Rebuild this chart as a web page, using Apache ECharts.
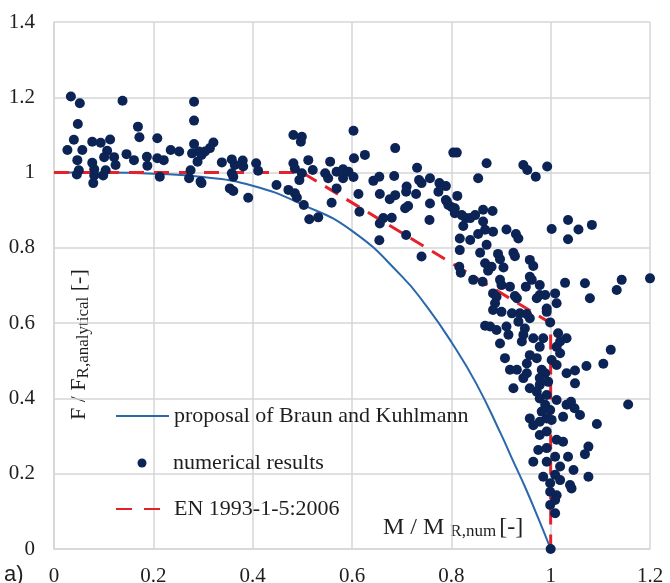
<!DOCTYPE html>
<html>
<head>
<meta charset="utf-8">
<script src="https://cdn.jsdelivr.net/npm/echarts@6/dist/echarts.min.js"></script>
<style>
  html, body { margin: 0; padding: 0; background: #ffffff; }
  #chart { width: 670px; height: 583px; }
</style>
</head>
<body>
<div id="chart"></div>
<script>
// Series names as shown in the legend
const seriesNames = ['proposal of Braun and Kuhlmann', 'numerical results', 'EN 1993-1-5:2006'];

// Axis tick labels
const xTickLabels = ['0', '0.2', '0.4', '0.6', '0.8', '1', '1.2'];
const yTickLabels = ['0', '0.2', '0.4', '0.6', '0.8', '1', '1.2', '1.4'];

// Interaction curve proposed by Braun and Kuhlmann (M/MR,num -> F/FR,analytical)
const curveM = [0, 0.1, 0.2, 0.3, 0.4, 0.5, 0.6, 0.7, 0.75, 0.8, 0.85, 0.9, 0.925, 0.95, 0.975, 1.0];
const curveF = [1.0, 1.0, 0.997, 0.988, 0.965, 0.915, 0.845, 0.725, 0.645, 0.55, 0.44, 0.305, 0.232, 0.16, 0.082, 0];

// EN 1993-1-5:2006 interaction limit
const enM = [0, 0.5, 1.0, 1.0];
const enF = [1.0, 1.0, 0.6, 0];

// Numerical results [M/MR,num, F/FR,analytical]
const numericalResults = [
  [0.034,1.202],[0.052,1.184],[0.138,1.191],[0.282,1.188],[0.048,1.129],[0.282,1.138],[0.169,1.122],
  [0.172,1.094],[0.208,1.091],[0.040,1.087],[0.077,1.082],[0.094,1.079],[0.113,1.088],[0.282,1.076],
  [0.027,1.060],[0.057,1.060],[0.107,1.058],[0.146,1.049],[0.161,1.033],[0.187,1.042],[0.208,1.038],
  [0.235,1.060],[0.252,1.056],[0.221,1.033],[0.101,1.041],[0.121,1.041],[0.047,1.033],[0.077,1.026],
  [0.124,1.020],[0.188,1.018],[0.050,1.006],[0.081,1.009],[0.104,1.006],[0.046,0.995],[0.081,0.992],
  [0.099,0.992],[0.213,0.989],[0.079,0.972],[0.275,1.006],[0.272,0.985],[0.295,0.976],[0.278,1.051],
  [0.292,1.056],[0.289,1.029],[0.321,1.080],[0.314,1.065],[0.304,1.056],[0.297,1.047],[0.338,1.027],
  [0.358,1.035],[0.380,1.032],[0.364,1.020],[0.381,1.016],[0.407,1.025],[0.411,1.005],[0.358,0.998],
  [0.361,0.989],[0.297,0.972],[0.354,0.958],[0.361,0.951],[0.391,0.933],[0.448,0.967],[0.472,0.954],
  [0.485,0.945],[0.489,0.934],[0.482,1.100],[0.499,1.095],[0.497,1.082],[0.482,1.025],[0.485,1.011],
  [0.499,0.998],[0.494,0.980],[0.512,1.033],[0.521,1.007],[0.503,0.914],[0.514,0.876],[0.532,0.881],
  [0.556,1.029],[0.546,0.998],[0.552,0.985],[0.569,1.002],[0.582,1.009],[0.582,0.985],[0.569,0.958],
  [0.559,0.920],[0.593,1.002],[0.603,1.111],[0.626,1.047],[0.604,1.038],[0.687,1.065],[0.804,1.053],
  [0.811,1.053],[0.603,0.988],[0.643,0.978],[0.655,0.989],[0.685,0.991],[0.731,1.013],[0.735,0.980],
  [0.740,0.972],[0.757,0.985],[0.776,0.972],[0.789,0.964],[0.710,0.963],[0.613,0.943],[0.656,0.943],
  [0.709,0.949],[0.729,0.943],[0.687,0.940],[0.676,0.929],[0.774,0.949],[0.812,0.938],[0.757,0.918],
  [0.789,0.927],[0.794,0.914],[0.801,0.908],[0.807,0.905],[0.707,0.905],[0.713,0.911],[0.615,0.896],
  [0.663,0.879],[0.680,0.880],[0.656,0.865],[0.756,0.874],[0.821,0.887],[0.824,0.858],[0.709,0.834],
  [0.655,0.820],[0.817,0.825],[0.817,0.794],[0.740,0.777],[0.816,0.750],[0.829,0.879],[0.871,1.025],
  [0.945,1.020],[0.953,1.007],[0.970,0.989],[0.993,1.016],[0.854,0.985],[0.791,0.923],[0.807,0.892],
  [0.838,0.879],[0.848,0.887],[0.864,0.901],[0.883,0.898],[0.864,0.870],[0.868,0.848],[0.884,0.843],
  [0.854,0.837],[0.911,0.849],[0.930,0.837],[0.935,0.825],[1.002,0.850],[1.035,0.874],[1.035,0.823],
  [0.838,0.821],[0.871,0.808],[0.858,0.787],[0.894,0.784],[0.925,0.787],[0.928,0.778],[0.898,0.770],
  [0.868,0.759],[0.881,0.750],[0.905,0.748],[0.874,0.739],[0.819,0.734],[0.958,0.768],[0.965,0.752],
  [0.958,0.723],[0.962,0.715],[0.978,0.701],[0.844,0.715],[0.863,0.710],[0.898,0.715],[0.901,0.701],
  [0.918,0.697],[0.884,0.679],[0.891,0.670],[0.928,0.672],[0.950,0.697],[1.009,0.679],[1.029,0.707],
  [0.978,0.675],[0.888,0.653],[0.932,0.666],[0.972,0.666],[0.989,0.675],[1.012,0.653],[0.992,0.639],
  [0.884,0.635],[0.901,0.630],[0.922,0.626],[0.938,0.626],[0.952,0.624],[0.958,0.613],[0.999,0.602],
  [0.868,0.593],[0.878,0.591],[0.891,0.582],[0.911,0.591],[0.935,0.604],[0.948,0.586],[0.915,0.569],
  [0.945,0.569],[0.965,0.560],[0.985,0.560],[1.015,0.573],[1.032,0.560],[0.898,0.546],[0.942,0.551],
  [0.978,0.537],[1.012,0.537],[1.019,0.520],[0.908,0.507],[0.958,0.515],[0.972,0.507],[1.002,0.502],
  [0.952,0.493],[1.012,0.489],[0.918,0.476],[0.932,0.476],[0.952,0.467],[0.982,0.476],[0.989,0.467],
  [0.945,0.454],[0.978,0.454],[0.995,0.444],[1.032,0.467],[0.925,0.427],[0.958,0.427],[0.978,0.436],
  [0.972,0.418],[0.978,0.400],[0.992,0.409],[0.989,0.383],[1.012,0.396],[0.982,0.365],[0.999,0.369],
  [1.032,0.383],[0.958,0.347],[1.025,0.351],[0.965,0.329],[0.978,0.338],[0.992,0.347],[1.002,0.343],
  [1.059,0.356],[0.978,0.303],[0.992,0.312],[1.012,0.290],[1.025,0.285],[0.975,0.263],[0.992,0.268],
  [1.009,0.245],[1.035,0.245],[0.965,0.232],[0.992,0.232],[1.019,0.219],[1.046,0.210],[1.076,0.272],
  [1.076,0.192],[0.985,0.192],[1.009,0.197],[1.019,0.183],[1.039,0.170],[0.999,0.175],[0.999,0.152],
  [1.012,0.143],[1.009,0.130],[0.999,0.117],[1.009,0.095],[1.000,0.000],[1.079,0.666],[1.133,0.688],
  [1.121,0.529],[1.106,0.492],[1.072,0.486],[1.049,0.474],[1.049,0.440],[1.156,0.384],[1.093,0.332],
  [1.069,0.252],[1.042,0.161],[1.041,0.391],[1.048,0.374],[1.056,0.849],[1.083,0.861],[0.992,0.630],
  [1.069,0.706],[1.143,0.715],[1.200,0.719],[1.019,0.551]
];

const SERIF = "'Liberation Serif', 'DejaVu Serif', serif";
const GRID_COLOR = '#d6d6d6';
const TEXT_COLOR = '#1e1e1e';
const BLUE = '#2a67ad';
const RED = '#e5222b';
const NAVY = '#0b2455';

const zip = (a, b) => a.map((v, i) => [v, b[i]]);

const chart = echarts.init(document.getElementById('chart'), null, { renderer: 'canvas' });

const legendBase = {
  left: 115,
  padding: 0,
  itemGap: 0,
  itemWidth: 53,
  selectedMode: false,
  textStyle: { fontFamily: SERIF, fontSize: 22, color: TEXT_COLOR }
};

const option = {
  backgroundColor: '#ffffff',
  animation: false,
  // fixed plot rectangle; tick labels may run to the page edge
  grid: { left: 54, right: 20, top: 22, bottom: 34, containLabel: false, outerBoundsMode: 'none' },
  legend: [
    // line-only keys: the marker in the middle of the key is hidden
    Object.assign({}, legendBase, { top: 405, itemHeight: 14, itemStyle: { opacity: 0 }, data: [{ name: seriesNames[0] }] }),
    // dot key centred under the line keys, text kept in the same column
    Object.assign({}, legendBase, {
      top: 452, left: 137.5, itemWidth: 9, itemHeight: 9,
      textStyle: { fontFamily: SERIF, fontSize: 22, color: TEXT_COLOR, padding: [0, 0, 0, 21.5] },
      data: [{ name: seriesNames[1], icon: 'circle' }]
    }),
    Object.assign({}, legendBase, {
      top: 498, itemHeight: 14, itemStyle: { opacity: 0 },
      lineStyle: { type: [16, 12] },
      data: [{ name: seriesNames[2] }]
    })
  ],
  xAxis: {
    type: 'value',
    min: 0,
    max: 1.2,
    interval: 0.2,
    axisLine: { show: true, lineStyle: { color: GRID_COLOR, width: 1.5 } },
    axisTick: { show: false },
    splitLine: { show: true, lineStyle: { color: GRID_COLOR, width: 1.5 } },
    axisLabel: {
      fontFamily: SERIF, fontSize: 21, color: TEXT_COLOR, margin: 17,
      formatter: v => xTickLabels[Math.round(v / 0.2)]
    }
  },
  yAxis: {
    type: 'value',
    min: 0,
    max: 1.4,
    interval: 0.2,
    axisLine: { show: true, lineStyle: { color: GRID_COLOR, width: 1.5 } },
    axisTick: { show: false },
    splitLine: { show: true, lineStyle: { color: GRID_COLOR, width: 1.5 } },
    axisLabel: {
      fontFamily: SERIF, fontSize: 21, color: TEXT_COLOR, margin: 19,
      formatter: v => yTickLabels[Math.round(v / 0.2)]
    }
  },
  series: [
    {
      name: seriesNames[0],
      type: 'line',
      data: zip(curveM, curveF),
      smooth: true,
      symbol: 'none',
      z: 2,
      color: BLUE,
      lineStyle: { color: BLUE, width: 2 }
    },
    {
      name: seriesNames[1],
      type: 'scatter',
      data: numericalResults,
      symbol: 'circle',
      symbolSize: 10,
      clip: false,
      z: 4,
      itemStyle: { color: NAVY, opacity: 1 }
    },
    {
      name: seriesNames[2],
      type: 'line',
      data: zip(enM, enF),
      symbol: 'none',
      z: 3,
      color: RED,
      lineStyle: { color: RED, width: 3, type: [15, 10] }
    }
  ],
  graphic: [
    {
      type: 'text',
      x: 80,
      y: 420,
      rotation: Math.PI / 2,
      style: {
        text: '{m|F / F}{s|R,analytical}{m| [-]}',
        align: 'left',
        verticalAlign: 'middle',
        fill: TEXT_COLOR,
        rich: {
          m: { fontFamily: SERIF, fontSize: 22, lineHeight: 24, verticalAlign: 'top' },
          s: { fontFamily: SERIF, fontSize: 17, lineHeight: 16, padding: [10, 0, 0, 0], verticalAlign: 'bottom' }
        }
      }
    },
    {
      type: 'text',
      x: 383,
      y: 528,
      style: {
        text: '{m|M / M }{s|R,num}{b|[-]}',
        align: 'left',
        verticalAlign: 'middle',
        fill: TEXT_COLOR,
        rich: {
          m: { fontFamily: SERIF, fontSize: 24, lineHeight: 24, verticalAlign: 'top' },
          s: { fontFamily: SERIF, fontSize: 17, lineHeight: 16, padding: [10, 0, 0, 0], verticalAlign: 'bottom' },
          b: { fontFamily: SERIF, fontSize: 24, lineHeight: 24, verticalAlign: 'top', padding: [0, 0, 0, 3] }
        }
      }
    },
    {
      type: 'text',
      x: 4,
      y: 575,
      style: {
        text: 'a)',
        align: 'left',
        verticalAlign: 'middle',
        fill: TEXT_COLOR,
        font: "22px 'Liberation Sans', Arial, sans-serif"
      }
    }
  ]
};

chart.setOption(option);
</script>
</body>
</html>
